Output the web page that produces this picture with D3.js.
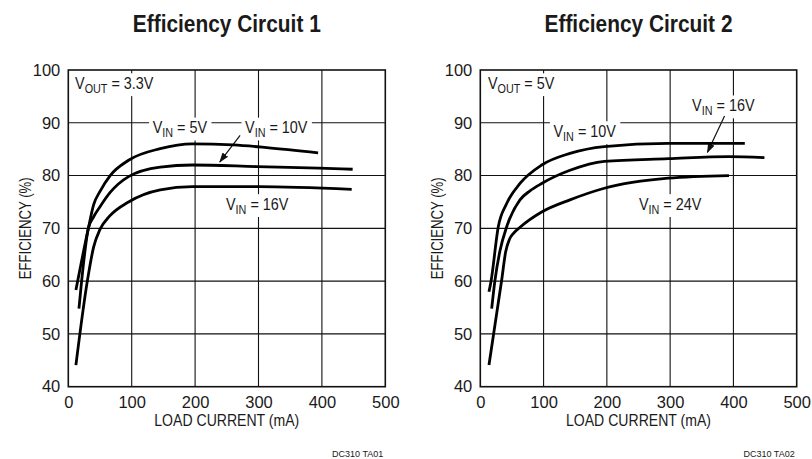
<!DOCTYPE html>
<html>
<head>
<meta charset="utf-8">
<script src="https://cdn.jsdelivr.net/npm/d3@7"></script>
<style>
  body { margin: 0; background: #fff; }
  text { font-family: "Liberation Sans Narrow", "Arial Narrow", "Liberation Sans", Arial, sans-serif; fill: #1a1a1a; }
</style>
</head>
<body>
<div id="chart"></div>
<script>
// axis ticks
const xTicks = [0, 100, 200, 300, 400, 500];
const yTicks = [40, 50, 60, 70, 80, 90, 100];

// Circuit 1, VOUT = 3.3V  (load current mA / efficiency %)
const c1Load5V  = [12, 31.6, 40, 50, 66, 95, 145, 196, 260, 313, 394];
const c1Eff5V   = [58.3, 70, 74.5, 77, 80, 82.9, 85.1, 86, 85.8, 85.3, 84.3];
const c1Load10V = [16.8, 21, 31.6, 40, 50, 66, 95, 145, 196, 297, 395, 448.5];
const c1Eff10V  = [54.8, 60, 70, 72.2, 74.1, 76.8, 79.8, 81.6, 82, 81.7, 81.4, 81.2];
const c1Load16V = [12, 30, 40, 50, 65, 95, 145, 196, 300, 447];
const c1Eff16V  = [44.1, 60, 66.5, 69.8, 72.3, 75, 77.3, 77.9, 77.9, 77.4];

// Circuit 2, VOUT = 5V
const c2Load10V = [13.7, 17, 28.4, 41.7, 62.7, 97, 141.7, 196, 297, 418];
const c2Eff10V  = [58, 60, 70.3, 74.7, 78.5, 82, 84.2, 85.5, 86.1, 86.1];
const c2Load16V = [18, 23, 31, 41.7, 62.7, 78.5, 97, 141.7, 196, 297, 393, 449];
const c2Eff16V  = [54.8, 60, 65.7, 70.3, 75.4, 77.1, 78.5, 81, 82.7, 83.2, 83.6, 83.4];
const c2Load24V = [13.7, 33.8, 40, 46, 52, 62.7, 97, 141.7, 196, 297, 393];
const c2Eff24V  = [44.1, 60.2, 65.5, 67.9, 69, 70.2, 73.1, 75.4, 77.6, 79.5, 80];

// annotations: [subscript, rest, load mA, efficiency %, anchor]
const c1Notes = [["OUT", " = 3.3V", 10.6, 96.4, "start"], ["IN", " = 5V", 176, 88.0, "middle"],
                 ["IN", " = 10V", 328, 88.0, "middle"], ["IN", " = 16V", 298, 73.5, "middle"]];
const c2Notes = [["OUT", " = 5V", 12, 96.4, "start"], ["IN", " = 10V", 165, 87.3, "middle"],
                 ["IN", " = 16V", 384, 92.2, "middle"], ["IN", " = 24V", 300, 73.5, "middle"]];
const c1Arrow = [[271, 87.6], [239, 82.6]];
const c2Arrow = [[386, 91.3], [359, 84.4]];

const W = 812, H = 459;
const narrow = 0.9;   // no condensed face installed, squeeze glyphs instead
const svg = d3.select("#chart").append("svg").attr("width", W).attr("height", H);

svg.append("defs").append("marker")
    .attr("id", "head")
    .attr("viewBox", "0 0 10 10")
    .attr("refX", 9).attr("refY", 5)
    .attr("markerWidth", 10).attr("markerHeight", 10)
    .attr("markerUnits", "userSpaceOnUse")
    .attr("orient", "auto")
    .append("path").attr("d", "M0,1.5 L10,5 L0,8.5 Z").attr("fill", "#111");

const zip = (xs, ys) => xs.map((v, i) => [v, ys[i]]);

function drawPanel(opts) {
    const x = d3.scaleLinear().domain([0, 500]).range(opts.xRange);
    const y = d3.scaleLinear().domain([40, 100]).range([386.7, 70]);
    const g = svg.append("g");

    // grid
    g.append("g").selectAll("line").data(xTicks.slice(1, -1)).join("line")
        .attr("x1", d => x(d)).attr("x2", d => x(d))
        .attr("y1", y(40)).attr("y2", y(100))
        .attr("stroke", "#111").attr("stroke-width", 1.1);
    g.append("g").selectAll("line").data(yTicks.slice(1, -1)).join("line")
        .attr("x1", x(0)).attr("x2", x(500))
        .attr("y1", d => y(d)).attr("y2", d => y(d))
        .attr("stroke", "#111").attr("stroke-width", 1.1);

    // axes (labels only)
    const xAxis = g.append("g").attr("transform", `translate(0,${y(40)})`)
        .call(d3.axisBottom(x).tickValues(xTicks).tickSize(0).tickPadding(10));
    const yAxis = g.append("g").attr("transform", `translate(${x(0)},0)`)
        .call(d3.axisLeft(y).tickValues(yTicks).tickSize(0).tickPadding(8));
    [xAxis, yAxis].forEach(a => {
        a.select(".domain").remove();
        a.attr("font-family", null).attr("font-size", null);
        a.selectAll("text").attr("font-size", 16.5).attr("fill", "#1a1a1a");
    });

    g.append("text")
        .attr("x", (opts.xRange[0] + opts.xRange[1]) / 2).attr("y", 426)
        .attr("text-anchor", "middle").attr("font-size", 16.5)
        .attr("textLength", 145).attr("lengthAdjust", "spacingAndGlyphs")
        .text("LOAD CURRENT (mA)");
    g.append("text")
        .attr("transform", `translate(${opts.xRange[0] - 37},${y(70)}) rotate(-90)`)
        .attr("text-anchor", "middle").attr("font-size", 16.5)
        .attr("textLength", 102).attr("lengthAdjust", "spacingAndGlyphs")
        .text("EFFICIENCY (%)");

    g.append("text")
        .attr("x", (opts.xRange[0] + opts.xRange[1]) / 2).attr("y", 32)
        .attr("text-anchor", "middle").attr("font-size", 23).attr("font-weight", "bold")
        .attr("textLength", 188).attr("lengthAdjust", "spacingAndGlyphs")
        .text(opts.title);

    g.append("text")
        .attr("x", opts.xRange[1] - 2).attr("y", 457)
        .attr("text-anchor", "end").attr("font-size", 9)
        .text(opts.footer);

    // annotations with white knock-out
    opts.notes.forEach(n => {
        const ng = g.append("g")
            .attr("transform", `translate(${x(n[2])},${y(n[3])}) scale(${narrow},1)`);
        const t = ng.append("text").attr("text-anchor", n[4]).attr("font-size", 16);
        t.append("tspan").text("V");
        t.append("tspan").attr("font-size", 12).attr("dy", 4).text(n[0]);
        t.append("tspan").attr("dy", -4).text(n[1]);
        const b = t.node().getBBox();
        ng.insert("rect", "text")
            .attr("x", b.x - 4).attr("y", b.y - 1)
            .attr("width", b.width + 8).attr("height", b.height + 2)
            .attr("fill", "#fff");
    });

    g.append("line")
        .attr("x1", x(opts.arrow[0][0])).attr("y1", y(opts.arrow[0][1]))
        .attr("x2", x(opts.arrow[1][0])).attr("y2", y(opts.arrow[1][1]))
        .attr("stroke", "#111").attr("stroke-width", 1.2)
        .attr("marker-end", "url(#head)");

    // curves
    const line = d3.line().x(d => x(d[0])).y(d => y(d[1])).curve(d3.curveMonotoneX);
    g.append("g").selectAll("path").data(opts.series).join("path")
        .attr("d", line)
        .attr("fill", "none").attr("stroke", "#000")
        .attr("stroke-width", 2.8).attr("stroke-linecap", "butt");

    // frame
    g.append("rect")
        .attr("x", x(0)).attr("y", y(100))
        .attr("width", x(500) - x(0)).attr("height", y(40) - y(100))
        .attr("fill", "none").attr("stroke", "#111").attr("stroke-width", 1.6);
}

drawPanel({
    xRange: [68.3, 385.3],
    title: "Efficiency Circuit 1",
    footer: "DC310 TA01",
    series: [zip(c1Load5V, c1Eff5V), zip(c1Load10V, c1Eff10V), zip(c1Load16V, c1Eff16V)],
    notes: c1Notes,
    arrow: c1Arrow
});

drawPanel({
    xRange: [480.3, 796.7],
    title: "Efficiency Circuit 2",
    footer: "DC310 TA02",
    series: [zip(c2Load10V, c2Eff10V), zip(c2Load16V, c2Eff16V), zip(c2Load24V, c2Eff24V)],
    notes: c2Notes,
    arrow: c2Arrow
});
</script>
</body>
</html>
